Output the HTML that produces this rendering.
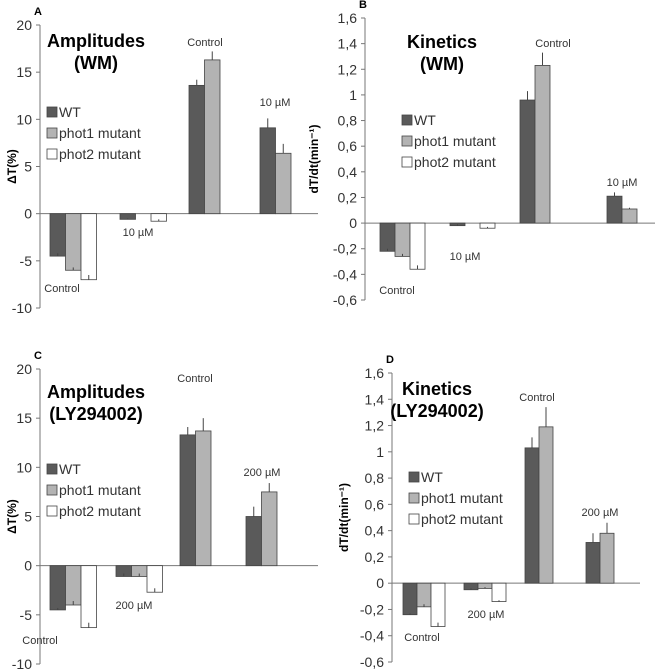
<!DOCTYPE html>
<html><head><meta charset="utf-8"><style>body{margin:0;background:#fff}svg{display:block;font-family:"Liberation Sans",sans-serif}</style></head>
<body>
<svg id="s" width="664" height="671" viewBox="0 0 664 671"></svg>
<script>
const groups=["Control","Inhibitor","Control","Inhibitor"];
const seriesNames=["WT","phot1 mutant","phot2 mutant"];
const colors=["#5a5a5a","#b3b3b3","#ffffff"];
const A_vals=[[-4.5,-0.6,13.6,9.1],[-6,0,16.3,6.4],[-7,-0.8,null,null]];
const A_err=[[0.3,0.1,0.6,1.0],[0.3,0,0.9,1.0],[0.5,0.2,0,0]];
const B_vals=[[-0.22,-0.02,0.96,0.21],[-0.26,0,1.23,0.11],[-0.36,-0.04,null,null]];
const B_err=[[0.02,0.01,0.07,0.03],[0.02,0,0.1,0.01],[0.03,0.01,0,0]];
const C_vals=[[-4.5,-1.1,13.3,5.0],[-4.0,-1.1,13.7,7.5],[-6.3,-2.7,null,null]];
const C_err=[[0.2,0.3,0.8,1.0],[0.4,0.3,1.3,0.9],[0.5,0.4,0,0]];
const D_vals=[[-0.24,-0.05,1.03,0.31],[-0.18,-0.04,1.19,0.38],[-0.33,-0.14,null,null]];
const D_err=[[0.01,0.01,0.08,0.07],[0.02,0.01,0.15,0.08],[0.03,0.01,0,0]];
const A_ticks=[20,15,10,5,0,-5,-10];
const B_ticks=["1,6","1,4","1,2","1","0,8","0,6","0,4","0,2","0","-0,2","-0,4","-0,6"];
const NS="http://www.w3.org/2000/svg",svg=document.getElementById('s');
function el(t,a,txt,p){const e=document.createElementNS(NS,t);for(const k in a)e.setAttribute(k,a[k]);if(txt!=null)e.textContent=txt;(p||svg).appendChild(e);return e;}
function panel(o){
 const g=el('g',{});
 
 
 const y=v=>o.y0+(o.max-v)/(o.max-o.min)*(o.y1-o.y0);
 el('text',{x:o.ax-6,y:o.y0-10,'font-size':11,'font-weight':'bold'},o.id,g);
 el('line',{x1:o.ax,y1:o.y0,x2:o.ax,y2:o.y1,stroke:'#777'},null,g);
 const n=o.ticks.length;
 o.ticks.forEach((t,i)=>{const v=o.max-i*(o.max-o.min)/(n-1);const yy=y(v);
  el('line',{x1:o.ax-4,y1:yy,x2:o.ax,y2:yy,stroke:'#777'},null,g);
  const tx=el('text',{x:o.ax-8,y:yy+5,'font-size':14,'text-anchor':'end',fill:'#333'},String(t),g);
  });
 el('line',{x1:o.ax,y1:y(0),x2:o.xe,y2:y(0),stroke:'#777'},null,g);
 o.vals.forEach((ser,s)=>ser.forEach((v,gi)=>{if(v==null||v===0)return;
  const x=o.gx[gi]+s*o.bw;const yv=y(v),y0=y(0);
  const r=el('rect',{x:x,y:Math.min(yv,y0),width:o.bw,height:Math.abs(yv-y0),fill:colors[s],stroke:'#444','stroke-width':0.8},null,g);
  
  const e=o.err[s][gi];if(e){const ye=y(v+e);el('line',{x1:x+o.bw/2,y1:yv,x2:x+o.bw/2,y2:ye,stroke:'#444'},null,g);}
 }));
 el('text',{x:o.tx,y:o.ty,'font-size':18,'font-weight':'bold','text-anchor':'middle'},o.t1,g);
 el('text',{x:o.tx,y:o.ty+22,'font-size':18,'font-weight':'bold','text-anchor':'middle'},o.t2,g);
 seriesNames.forEach((nm,i)=>{const yy=o.ly+i*21;
  const r=el('rect',{x:o.lx,y:yy-10,width:10,height:10,fill:colors[i],stroke:'#444','stroke-width':0.8},null,g);
  
  const t=el('text',{x:o.lx+12,y:yy,'font-size':14,fill:'#333'},nm,g);
  });
 o.labels.forEach(l=>{const t=el('text',{x:l[0],y:l[1],'font-size':11,'text-anchor':'middle',fill:'#333'},l[2],g);
  });
 const yl=el('text',{x:0,y:0,'font-size':12,'font-weight':'bold','text-anchor':'middle',transform:`translate(${o.ylx},${(o.y0+o.y1)/2}) rotate(-90)`},o.ylab,g);
 
}
panel({id:'A',ax:40,xe:318,y0:25,y1:308,max:20,min:-10,ticks:A_ticks,vals:A_vals,err:A_err,gx:[50,120,189,260],bw:15.5,
 tx:96,ty:47,t1:'Amplitudes',t2:'(WM)',lx:47,ly:117,ylx:16,ylab:'ΔT(%)',
 labels:[[62,292,'Control'],[138,236,'10 µM'],[205,46,'Control'],[275,106,'10 µM']]});
panel({id:'B',ax:365,xe:655,y0:18,y1:300,max:1.6,min:-0.6,ticks:B_ticks,vals:B_vals,err:B_err,gx:[380,450,520,607],bw:15,
 tx:442,ty:48,t1:'Kinetics',t2:'(WM)',lx:402,ly:125,ylx:318,ylab:'dT/dt(min⁻¹)',
 labels:[[397,294,'Control'],[465,260,'10 µM'],[553,47,'Control'],[622,186,'10 µM']]});
panel({id:'C',ax:40,xe:318,y0:369,y1:664,max:20,min:-10,ticks:A_ticks,vals:C_vals,err:C_err,gx:[50,116,180,246],bw:15.5,
 tx:96,ty:398,t1:'Amplitudes',t2:'(LY294002)',lx:47,ly:474,ylx:16,ylab:'ΔT(%)',
 labels:[[40,644,'Control'],[134,609,'200 µM'],[195,382,'Control'],[262,476,'200 µM']]});
panel({id:'D',ax:392,xe:640,y0:373,y1:662,max:1.6,min:-0.6,ticks:B_ticks,vals:D_vals,err:D_err,gx:[403,464,525,586],bw:14,
 tx:437,ty:395,t1:'Kinetics',t2:'(LY294002)',lx:409,ly:482,ylx:348,ylab:'dT/dt(min⁻¹)',
 labels:[[422,641,'Control'],[486,618,'200 µM'],[537,401,'Control'],[600,516,'200 µM']]});
</script>
</body></html>
